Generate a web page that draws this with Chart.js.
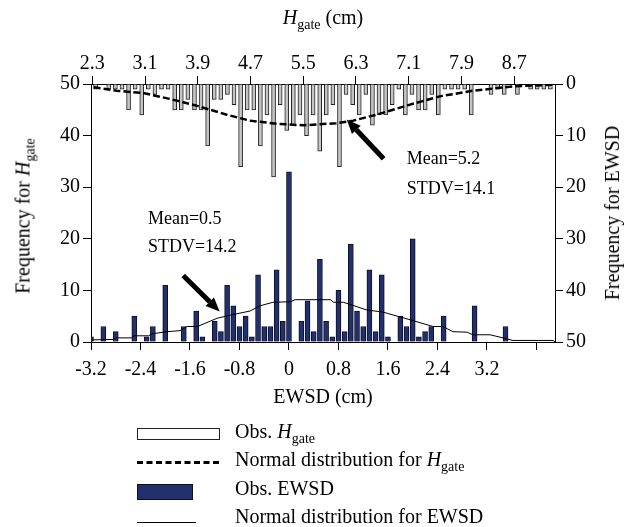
<!DOCTYPE html>
<html>
<head>
<meta charset="utf-8">
<script src="https://cdn.jsdelivr.net/npm/chart.js@4.4.1/dist/chart.umd.min.js"></script>
<style>
  html, body { margin: 0; padding: 0; background: #fff; }
  #wrap { position: relative; width: 635px; height: 527px; font-family: 'Liberation Serif', 'Times New Roman', serif; font-size: 20px; color: #000; }
  #wrap canvas { position: absolute; left: 0; top: 0; }
  .t { position: absolute; white-space: nowrap; line-height: 22px; }
  .sub { font-size: 14px; position: relative; top: 5px; }
  .rot { transform: translate(-50%, -50%) rotate(-90deg); }
  .sym { position: absolute; box-sizing: border-box; }
</style>
</head>
<body>
<div id="wrap">
  <canvas id="chart" width="635" height="527"></canvas>
  <div class="t" style="left:323px;top:6px;transform:translateX(-50%)"><i>H</i><span class="sub">gate</span> (cm)</div>
  <div class="t" style="left:323px;top:385px;transform:translateX(-50%)">EWSD (cm)</div>
  <div class="t rot" style="left:24px;top:216px">Frequency for <i>H</i><span class="sub">gate</span></div>
  <div class="t rot" style="left:612px;top:213px">Frequency for EWSD</div>

  <div class="sym" style="left:137px;top:428px;width:83px;height:12px;border:1px solid #222;background:#fff"></div>
  <div class="t" style="left:235px;top:420px">Obs. <i>H</i><span class="sub">gate</span></div>
  <div class="sym" style="left:137px;top:461px;width:82px;height:0;border-top:3px dashed #000"></div>
  <div class="t" style="left:235px;top:448px">Normal distribution for <i>H</i><span class="sub">gate</span></div>
  <div class="sym" style="left:137px;top:484px;width:56px;height:16px;border:1px solid #111;background:#23306e"></div>
  <div class="t" style="left:235px;top:477px">Obs. EWSD</div>
  <div class="sym" style="left:137px;top:522px;width:59px;height:0;border-top:1px solid #000"></div>
  <div class="t" style="left:235px;top:505px">Normal distribution for EWSD</div>
</div>
<script>
// EWSD histogram (bottom / left axes)
const ewsdX = [-3.2, -3.0, -2.8, -2.5, -2.3, -2.2, -2.0, -1.7, -1.5, -1.4,
  -1.2, -1.1, -1.0, -0.9, -0.8, -0.7, -0.6, -0.5, -0.4, -0.3, -0.2, -0.1,
  0.0, 0.2, 0.3, 0.4, 0.5, 0.6, 0.7, 0.8, 0.9, 1.0, 1.1, 1.2, 1.3, 1.4, 1.5, 1.6,
  1.8, 1.9, 2.0, 2.1, 2.2, 2.3, 2.5, 3.0, 3.5];
const ewsdFreq = [1, 3, 2, 5, 1, 3, 11, 3, 6, 1,
  4, 2, 11, 7, 3, 5, 1, 13, 3, 3, 14, 4,
  33, 4, 8, 2, 16, 4, 1, 10, 2, 19, 6, 3, 14, 2, 13, 1,
  5, 3, 20, 1, 2, 3, 5, 7, 3];

// normal distribution for EWSD
const ewsdNormX = [-3.2, -2.84, -2.8, -2.53, -2.51, -2.27, -2.21, -1.97, -1.76, -1.65, -1.48,
  -1.16, -0.95, -0.63, -0.47, -0.26, 0.02, 0.1, 0.67, 0.72, 0.88, 1.26, 1.52, 1.75,
  1.96, 2.33, 2.49, 2.65, 2.88, 2.97, 3.25, 3.46, 3.62, 4.27, 4.3];
const ewsdNormY = [0.4, 0.5, 0.8, 0.8, 1.2, 1.2, 1.6, 2.0, 2.2, 3.0, 3.0,
  4.6, 5.2, 6.0, 7.0, 7.7, 7.8, 8.2, 8.2, 7.7, 7.7, 6.2, 5.8, 5.0,
  4.3, 3.0, 3.0, 2.0, 1.9, 1.4, 1.4, 0.8, 0.3, 0.3, 0];

// H_gate histogram (top / right axes, hanging down)
const hGateX = [2.35, 2.55, 2.65, 2.75, 2.85, 2.95, 3.05, 3.15, 3.25, 3.35, 3.45, 3.55, 3.65,
  3.75, 3.85, 3.95, 4.05, 4.15, 4.25, 4.35, 4.45, 4.55, 4.65, 4.75, 4.85, 4.95, 5.05,
  5.15, 5.25, 5.35, 5.45, 5.55, 5.65, 5.75, 5.85, 5.95, 6.05, 6.15, 6.25, 6.35, 6.45,
  6.55, 6.65, 6.75, 6.85, 6.95, 7.05, 7.15, 7.25, 7.35, 7.45, 7.55, 7.65, 7.75, 7.85,
  7.95, 8.05, 8.35, 8.45, 8.55, 8.75, 8.95, 9.05, 9.15, 9.25];
const hGateFreq = [1, 1, 1, 1, 5, 1, 6, 1, 2, 1, 1, 5, 5,
  3, 5, 5, 12, 3, 3, 2, 4, 16, 5, 5, 12, 6, 18,
  4, 9, 8, 6, 10, 6, 13, 6, 4, 16, 2, 4, 6, 2,
  8, 6, 6, 4, 1, 6, 2, 5, 5, 2, 6, 1, 1, 1,
  1, 6, 2, 1, 2, 2, 1, 1, 1, 1];

// normal distribution for H_gate
const hGateNormX = [2.32, 2.67, 3.07, 3.48, 3.88, 4.34, 4.69, 5.1, 5.5, 6.0, 6.26, 6.61, 7.12, 7.57, 8.08, 8.68, 9.29];
const hGateNormY = [0.65, 1.3, 1.75, 2.9, 4.2, 5.95, 7.1, 7.7, 8.0, 7.6, 7.1, 5.95, 4.0, 2.4, 1.3, 0.46, 0.14];

// axes
const ewsdTicks = [-3.2, -2.4, -1.6, -0.8, 0, 0.8, 1.6, 2.4, 3.2, 4.0];
const ewsdTickLabels = ['-3.2', '-2.4', '-1.6', '-0.8', '0', '0.8', '1.6', '2.4', '3.2', ''];
const hGateTicks = [2.3, 3.1, 3.9, 4.7, 5.5, 6.3, 7.1, 7.9, 8.7];
const hGateTickLabels = ['2.3', '3.1', '3.9', '4.7', '5.5', '6.3', '7.1', '7.9', '8.7'];
const freqTicks = [0, 10, 20, 30, 40, 50];

const ewsdNote = ['Mean=0.5', 'STDV=14.2'];
const hGateNote = ['Mean=5.2', 'STDV=14.1'];

const serif = "'Liberation Serif', 'Times New Roman', serif";
Chart.defaults.font.family = serif;
Chart.defaults.font.size = 20;
Chart.defaults.color = '#000';

function pts(xs, ys) {
  return xs.map((x, i) => ({ x: x, y: ys[i] }));
}

function drawArrow(ctx, x1, y1, x2, y2) {
  const a = Math.atan2(y2 - y1, x2 - x1);
  const head = 14, w = 6;
  const bx = x2 - head * Math.cos(a), by = y2 - head * Math.sin(a);
  ctx.lineWidth = 5;
  ctx.beginPath();
  ctx.moveTo(x1, y1);
  ctx.lineTo(bx, by);
  ctx.stroke();
  ctx.beginPath();
  ctx.moveTo(x2, y2);
  ctx.lineTo(bx - w * Math.sin(a), by + w * Math.cos(a));
  ctx.lineTo(bx + w * Math.sin(a), by - w * Math.cos(a));
  ctx.closePath();
  ctx.fill();
}

// text notes and arrows, placed in data space
const notesPlugin = {
  id: 'notes',
  afterDatasetsDraw(chart) {
    const ctx = chart.ctx;
    const s = chart.scales;
    ctx.save();
    ctx.fillStyle = '#000';
    ctx.strokeStyle = '#000';
    ctx.font = '18px ' + serif;
    ctx.textBaseline = 'alphabetic';
    ctx.fillText(ewsdNote[0], s.x.getPixelForValue(-2.28), s.y.getPixelForValue(22.9));
    ctx.fillText(ewsdNote[1], s.x.getPixelForValue(-2.28), s.y.getPixelForValue(17.4));
    ctx.fillText(hGateNote[0], s.xTop.getPixelForValue(7.07), s.yRight.getPixelForValue(15.5));
    ctx.fillText(hGateNote[1], s.xTop.getPixelForValue(7.07), s.yRight.getPixelForValue(21.3));
    drawArrow(ctx, s.x.getPixelForValue(-1.71), s.y.getPixelForValue(12.9),
      s.x.getPixelForValue(-1.12), s.y.getPixelForValue(5.9));
    drawArrow(ctx, s.xTop.getPixelForValue(6.72), s.yRight.getPixelForValue(14.5),
      s.xTop.getPixelForValue(6.16), s.yRight.getPixelForValue(6.9));
    ctx.restore();
  }
};

const axisGrid = { drawOnChartArea: false, drawTicks: true, tickLength: 8, color: '#000', offset: false };
const axisBorder = { display: true, color: '#000', width: 1 };

new Chart(document.getElementById('chart'), {
  type: 'bar',
  data: {
    datasets: [
      {
        type: 'line',
        label: 'Normal distribution for H_gate',
        data: pts(hGateNormX, hGateNormY),
        xAxisID: 'xTop',
        yAxisID: 'yRight',
        borderColor: '#000',
        borderWidth: 2.5,
        borderDash: [7, 3],
        pointRadius: 0,
        tension: 0,
        fill: false,
        order: 1
      },
      {
        type: 'line',
        label: 'Normal distribution for EWSD',
        data: pts(ewsdNormX, ewsdNormY),
        xAxisID: 'x',
        yAxisID: 'y',
        borderColor: '#000',
        borderWidth: 1,
        pointRadius: 0,
        tension: 0,
        fill: false,
        order: 2
      },
      {
        type: 'bar',
        label: 'Obs. EWSD',
        data: pts(ewsdX, ewsdFreq),
        xAxisID: 'x',
        yAxisID: 'y',
        backgroundColor: '#23306e',
        borderColor: '#0c0f22',
        borderWidth: 1,
        barThickness: 5,
        grouped: false,
        order: 3
      },
      {
        type: 'bar',
        label: 'Obs. H_gate',
        data: pts(hGateX, hGateFreq),
        xAxisID: 'xTop',
        yAxisID: 'yRight',
        backgroundColor: '#c4c4c4',
        borderColor: '#222',
        borderWidth: 1,
        barThickness: 4,
        grouped: false,
        order: 4
      }
    ]
  },
  options: {
    responsive: false,
    animation: false,
    devicePixelRatio: 1,
    layout: { padding: 0 },
    plugins: { legend: { display: false }, tooltip: { enabled: false } },
    scales: {
      x: {
        type: 'linear',
        position: 'bottom',
        min: -3.2,
        max: 4.3,
        offset: false,
        afterBuildTicks: sc => { sc.ticks = ewsdTicks.map(v => ({ value: v })); },
        afterFit: sc => { sc.height = 185; },
        ticks: { autoSkip: false, maxRotation: 0, padding: 8, callback: (v, i) => ewsdTickLabels[i] },
        grid: axisGrid,
        border: axisBorder
      },
      xTop: {
        type: 'linear',
        position: 'top',
        min: 2.28,
        max: 9.32,
        offset: false,
        afterBuildTicks: sc => { sc.ticks = hGateTicks.map(v => ({ value: v })); },
        afterFit: sc => { sc.height = 84; },
        ticks: { autoSkip: false, maxRotation: 0, padding: 0, callback: (v, i) => hGateTickLabels[i] },
        grid: axisGrid,
        border: axisBorder
      },
      y: {
        type: 'linear',
        position: 'left',
        min: 0,
        max: 50,
        afterBuildTicks: sc => { sc.ticks = freqTicks.map(v => ({ value: v })); },
        afterFit: sc => { sc.width = 91; },
        ticks: { padding: 3 },
        grid: axisGrid,
        border: axisBorder
      },
      yRight: {
        type: 'linear',
        position: 'right',
        reverse: true,
        min: 0,
        max: 50,
        afterBuildTicks: sc => { sc.ticks = freqTicks.map(v => ({ value: v })); },
        afterFit: sc => { sc.width = 80; },
        ticks: { padding: 3 },
        grid: axisGrid,
        border: axisBorder
      }
    }
  },
  plugins: [notesPlugin]
});
</script>
</body>
</html>
